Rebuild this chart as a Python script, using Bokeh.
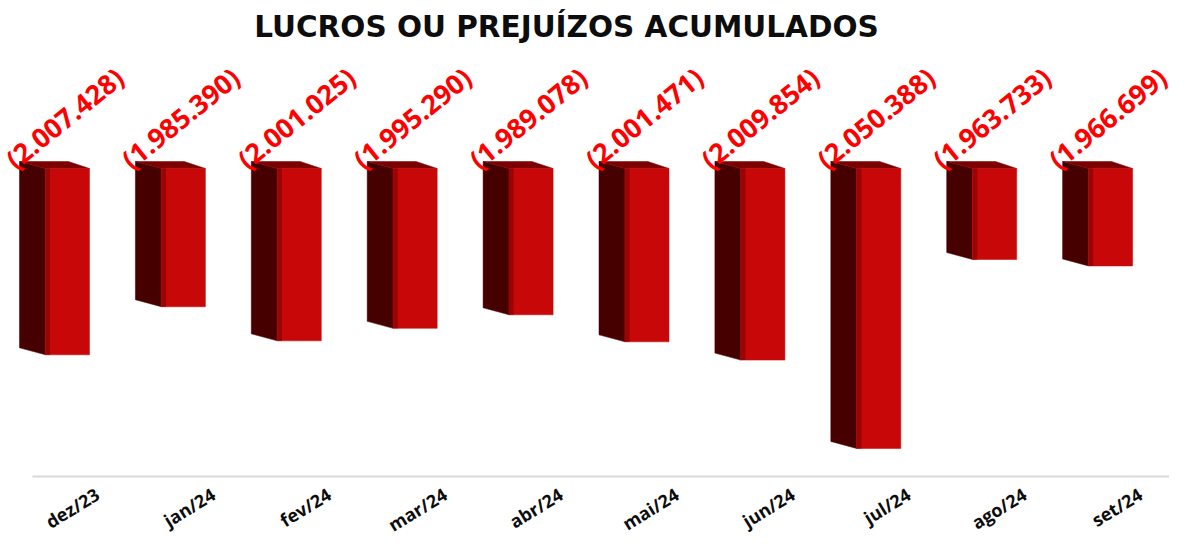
from bokeh.plotting import figure
from bokeh.models import Range1d, ColumnDataSource
from bokeh.core.properties import value
from bokeh.embed import file_html
from bokeh.resources import INLINE

# ---- data ----
categories = ["dez/23", "jan/24", "fev/24", "mar/24", "abr/24",
              "mai/24", "jun/24", "jul/24", "ago/24", "set/24"]
values = [-2007428, -1985390, -2001025, -1995290, -1989078,
          -2001471, -2009854, -2050388, -1963733, -1966699]
labels = ["(2.007.428)", "(1.985.390)", "(2.001.025)", "(1.995.290)", "(1.989.078)",
          "(2.001.471)", "(2.009.854)", "(2.050.388)", "(1.963.733)", "(1.966.699)"]
axis_top = -1922000
title = "LUCROS OU PREJUÍZOS ACUMULADOS"

# ---- layout constants ----
W, H = 1169, 532
PX_X = 115.9          # pixels per category
PX_Y = 1000 / 2.181   # value units per pixel
x0 = -54 / PX_X
xr = Range1d(x0, x0 + W / PX_X)
def vy(px):  # value at picture pixel row px
    return axis_top - (px - 168) * PX_Y
def vx(px):
    return x0 + px / PX_X
yr = Range1d(vy(H), vy(0))

p = figure(width=W, height=H, x_range=xr, y_range=yr, output_backend="svg",
           toolbar_location=None, min_border=0, outline_line_color=None)
p.axis.visible = False
p.grid.visible = False
p.background_fill_color = "white"
p.border_fill_color = "white"

n = len(values)
xs = list(range(n))
L, M, R = -0.302, -0.078, 0.302
dy = PX_Y

side_x, side_y, top_x, top_y = [], [], [], []
for i, v in zip(xs, values):
    side_x.append([i + L, i + M, i + M, i + L])
    side_y.append([axis_top + 7 * dy, axis_top, v, v + 7 * dy])
    top_x.append([i + L, i + 0.12, i + R, i + M])
    top_y.append([axis_top + 7 * dy, axis_top + 7 * dy, axis_top, axis_top])
p.patches(side_x, side_y, fill_color="#470000", line_color="#470000", line_width=0.5)
p.patches(top_x, top_y, fill_color="#7d0000", line_color="#7d0000", line_width=0.5)
# front faces
p.vbar(x=[i + (M + R) / 2 for i in xs], width=R - M, top=[axis_top] * n, bottom=values,
       fill_color="#c80808", line_color="#c80808", line_width=0.5)
# shading strip on front-left edge
p.vbar(x=[i + M + 0.02 for i in xs], width=0.04, top=[axis_top] * n, bottom=values,
       fill_color="#9c0303", line_color=None)

# axis line
p.segment(x0=[vx(32)], x1=[vx(W)], y0=[vy(476)], y1=[vy(476)],
          line_color="#d9d9d9", line_width=2)

# value labels
src = ColumnDataSource(dict(x=[i - 0.39 for i in xs], y=[vy(162)] * n, t=labels))
p.text(x="x", y="y", text="t", source=src, angle=0.68, text_align="left",
       text_baseline="alphabetic", text_color="#ff0000", text_font=value("Open Sans"),
       text_font_style="bold", text_font_size="27px")

# category labels
csrc = ColumnDataSource(dict(x=[i + 0.37 for i in xs], y=[vy(492)] * n, t=categories))
p.text(x="x", y="y", text="t", source=csrc, angle=0.55, text_align="right",
       text_baseline="middle", text_color="#0d0d0d", text_font=value("Open Sans"),
       text_font_style="bold", text_font_size="18px")

# title
p.text(x=[vx(566)], y=[vy(26)], text=[title], text_align="center",
       text_baseline="middle", text_color="#0d0d0d", text_font=value("DejaVu Sans"),
       text_font_style="bold", text_font_size="29.5px")

open("out.html", "w").write(file_html(p, INLINE))
